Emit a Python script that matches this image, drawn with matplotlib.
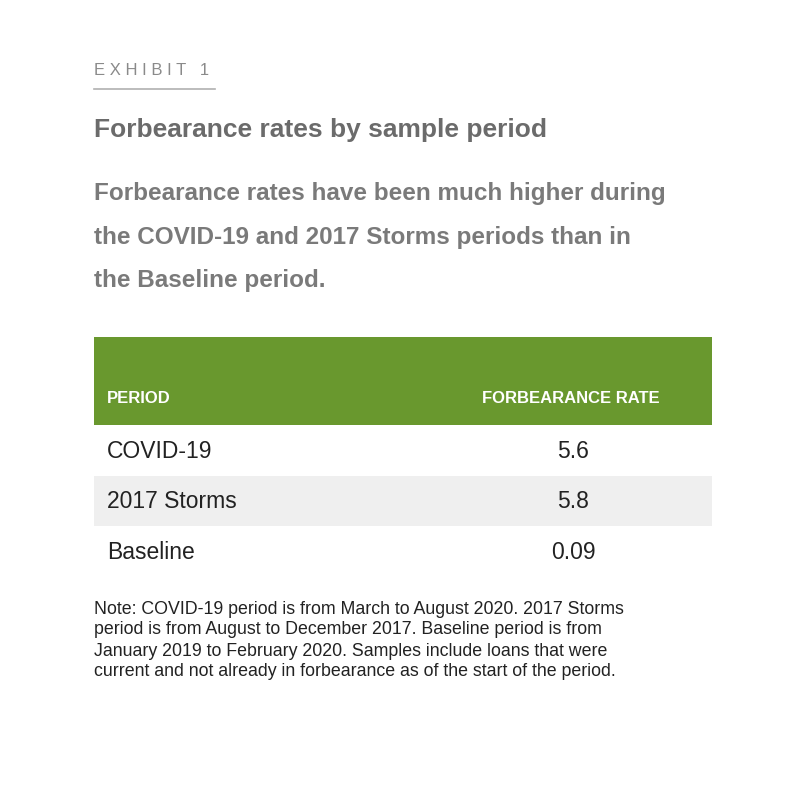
"""Exhibit 1 table: forbearance rates by sample period."""
import matplotlib
matplotlib.use('Agg')
import matplotlib.pyplot as plt
from matplotlib.patches import Rectangle

periods = ['COVID-19', '2017 Storms', 'Baseline']
rates = ['5.6', '5.8', '0.09']
headers = ['PERIOD', 'FORBEARANCE RATE']
subtitle = ['Forbearance rates have been much higher during',
            'the COVID-19 and 2017 Storms periods than in',
            'the Baseline period.']
note = ['Note: COVID-19 period is from March to August 2020. 2017 Storms',
        'period is from August to December 2017. Baseline period is from',
        'January 2019 to February 2020. Samples include loans that were',
        'current and not already in forbearance as of the start of the period.']

GREEN = '#69982e'
GRAY = '#6b6b6b'
DARK = '#222222'
plt.rcParams['font.family'] = 'Liberation Sans'

fig = plt.figure(figsize=(8, 7.97), dpi=100)
ax = fig.add_axes([0, 0, 1, 1])
ax.set_xlim(0, 800); ax.set_ylim(797, 0); ax.axis('off')

ax.text(94, 70, 'E X H I B I T   1', fontsize=12, color='#8a8a8a', va='center')
ax.plot([94, 215], [89, 89], color='#b0b0b0', lw=1.2)
ax.text(94, 130, 'Forbearance rates by sample period', fontsize=19,
        fontweight='bold', color=GRAY, va='center')
for i, line in enumerate(subtitle):
    ax.text(94, 193 + 44 * i, line, fontsize=17.5, fontweight='bold',
            color='#7a7a7a', va='center')

ax.add_patch(Rectangle((94, 337), 618, 88, color=GREEN, lw=0))
ax.text(107, 398, headers[0], fontsize=12, fontweight='bold', color='white', va='center')
ax.text(571, 398, headers[1], fontsize=12, fontweight='bold', color='white',
        va='center', ha='center')

row_h = 50.5
for i, (p, r) in enumerate(zip(periods, rates)):
    top = 425 + i * row_h
    if i % 2 == 1:
        ax.add_patch(Rectangle((94, top), 618, row_h, color='#efefef', lw=0))
    cy = top + row_h / 2 + 1
    ax.text(107, cy, p, fontsize=16.5, color=DARK, va='center')
    ax.text(573, cy, r, fontsize=16.5, color=DARK, va='center', ha='center')

for i, line in enumerate(note):
    ax.text(94, 609 + 21 * i, line, fontsize=12.8, color=DARK, va='center')

fig.savefig('out.png', dpi=100, facecolor='white')
